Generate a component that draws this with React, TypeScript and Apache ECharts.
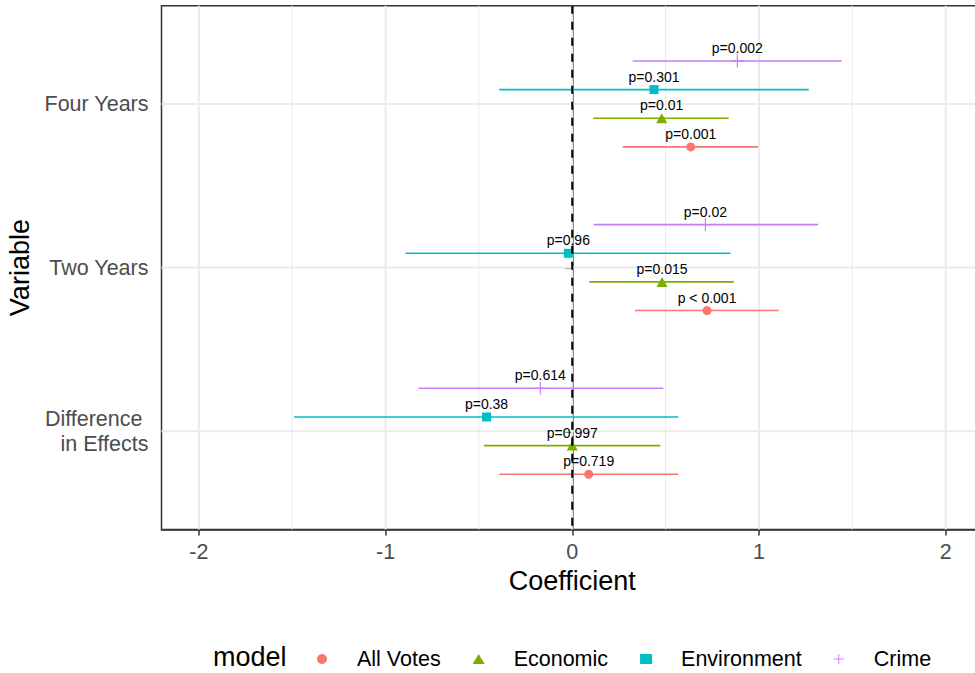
import React, { useEffect, useRef } from "react";
import * as echarts from "echarts";

// Categories (bottom to top, as ggplot places them)
const categories = ["Difference in Effects", "Two Years", "Four Years"];
const models = ["All Votes", "Economic", "Environment", "Crime"];
const modelColors = ["#F8766D", "#7CAE00", "#00BFC4", "#C77CFF"];

// Estimates and 95% intervals, per model, in category order
const allVotesEst = [0.088, 0.722, 0.635];
const allVotesLo = [-0.391, 0.336, 0.27];
const allVotesHi = [0.568, 1.106, 0.995];
const allVotesP = ["p=0.719", "p < 0.001", "p=0.001"];

const economicEst = [0.0, 0.481, 0.479];
const economicLo = [-0.473, 0.091, 0.112];
const economicHi = [0.472, 0.865, 0.838];
const economicP = ["p=0.997", "p=0.015", "p=0.01"];

const environmentEst = [-0.459, -0.021, 0.438];
const environmentLo = [-1.49, -0.893, -0.391];
const environmentHi = [0.568, 0.847, 1.267];
const environmentP = ["p=0.38", "p=0.96", "p=0.301"];

const crimeEst = [-0.171, 0.713, 0.884];
const crimeLo = [-0.823, 0.115, 0.324];
const crimeHi = [0.488, 1.317, 1.444];
const crimeP = ["p=0.614", "p=0.02", "p=0.002"];

const xTicks = [-2, -1, 0, 1, 2];
const xMinorBreaks = [-1.5, -0.5, 0.5, 1.5];
const referenceLine = [0];

const FONT = "'Liberation Sans', Arial, Helvetica, sans-serif";
const PLUS = "path://M5,0h1v11h-1z M0,5h11v1h-11z";

export default function App() {
  const ref = useRef<HTMLDivElement>(null);

  useEffect(() => {
    if (!ref.current) return;
    const chart = echarts.init(ref.current, null, { renderer: "svg" });

    const ests = [allVotesEst, economicEst, environmentEst, crimeEst];
    const los = [allVotesLo, economicLo, environmentLo, crimeLo];
    const his = [allVotesHi, economicHi, environmentHi, crimeHi];
    const ps = [allVotesP, economicP, environmentP, crimeP];
    const symbols = ["circle", "triangle", "rect", PLUS];
    const symbolSizes: any[] = [9, [11, 10], 9, 13];
    const dodgeWidth = 0.7;
    const nModels = models.length;
    const dodge = (m: number) => (m - (nModels - 1) / 2) * (dodgeWidth / nModels);
    const catPos = categories.map((_, i) => i + 1);
    const yMin = 0.4;
    const yMax = categories.length + 0.6;

    const series: any[] = [];

    // vertical grid lines (minor then major)
    series.push({
      type: "custom",
      name: "xgrid",
      silent: true,
      z: 1,
      data: [
        ...xMinorBreaks.map((v) => [v, 0]),
        ...xTicks.map((v) => [v, 1]),
      ],
      encode: { x: 0 },
      renderItem: (params: any, api: any) => {
        const v = api.value(0);
        const major = api.value(1) === 1;
        const p1 = api.coord([v, yMin]);
        const p2 = api.coord([v, yMax]);
        return {
          type: "line",
          shape: { x1: p1[0], y1: p1[1], x2: p2[0], y2: p2[1] },
          style: { stroke: "#EBEBEB", lineWidth: major ? 2 : 1 },
        };
      },
    });
    // horizontal grid lines at categories
    series.push({
      type: "custom",
      name: "ygrid",
      silent: true,
      z: 1,
      data: catPos.map((v) => [0, v]),
      encode: { y: 1 },
      renderItem: (params: any, api: any) => {
        const v = api.value(1);
        const p1 = api.coord([-2.2, v]);
        const p2 = api.coord([2.2, v]);
        return {
          type: "line",
          shape: { x1: p1[0], y1: p1[1], x2: p2[0], y2: p2[1] },
          style: { stroke: "#EBEBEB", lineWidth: 2 },
        };
      },
    });

    models.forEach((m, mi) => {
      series.push({
        type: "custom",
        name: m + " CI",
        silent: true,
        z: 2,
        data: catPos.map((c, ci) => [los[mi][ci], his[mi][ci], c + dodge(mi)]),
        encode: { x: [0, 1], y: 2 },
        renderItem: (params: any, api: any) => {
          const y = api.value(2);
          const p1 = api.coord([api.value(0), y]);
          const p2 = api.coord([api.value(1), y]);
          return {
            type: "line",
            shape: { x1: p1[0], y1: p1[1], x2: p2[0], y2: p2[1] },
            style: { stroke: modelColors[mi], lineWidth: 1.6 },
          };
        },
      });
    });

    models.forEach((m, mi) => {
      series.push({
        type: "scatter",
        name: m,
        z: 3,
        symbol: symbols[mi],
        symbolSize: symbolSizes[mi],
        itemStyle: { color: modelColors[mi], opacity: 1 },
        data: catPos.map((c, ci) => [ests[mi][ci], c + dodge(mi)]),
        label: {
          show: true,
          position: "inside",
          offset: [0, -13],
          formatter: (p: any) => ps[mi][p.dataIndex],
          color: "#000000",
          fontSize: 14,
          fontFamily: FONT,
        },
        emphasis: { disabled: true },
      });
    });

    // dashed reference line at zero, on top
    series.push({
      type: "custom",
      name: "ref",
      silent: true,
      z: 10,
      data: referenceLine.map((v) => [v]),
      encode: { x: 0 },
      renderItem: (params: any, api: any) => {
        const v = api.value(0);
        const p1 = api.coord([v, yMax]);
        const p2 = api.coord([v, yMin]);
        return {
          type: "line",
          shape: { x1: p1[0], y1: p1[1], x2: p2[0], y2: p2[1] },
          style: { stroke: "#000000", lineWidth: 2, lineDash: [8, 8] },
        };
      },
    });

    chart.setOption({
      animation: false,
      backgroundColor: "#ffffff",
      textStyle: { fontFamily: FONT },
      grid: {
        left: 161.5,
        right: 1,
        top: 5.7,
        bottom: 143.5,
        show: true,
        borderColor: "#333333",
        borderWidth: 1.5,
        backgroundColor: "transparent",
        containLabel: false,
        outerBoundsMode: "none",
      },
      xAxis: {
        type: "value",
        min: -2.2,
        max: 2.2,
        name: "Coefficient",
        nameLocation: "middle",
        nameGap: 35,
        nameTextStyle: { fontSize: 27, color: "#000000", fontFamily: FONT },
        axisLine: { show: true, lineStyle: { color: "#333333", width: 1.5 } },
        axisTick: {
          show: true,
          customValues: xTicks,
          length: 6,
          lineStyle: { color: "#333333", width: 1.5 },
        },
        axisLabel: {
          customValues: xTicks,
          margin: 11,
          fontSize: 21.5,
          color: "#4D4D4D",
          fontFamily: FONT,
          formatter: (v: number) => String(v),
        },
        splitLine: { show: false },
      },
      yAxis: {
        type: "value",
        min: yMin,
        max: yMax,
        name: "Variable",
        nameLocation: "middle",
        nameRotate: 90,
        nameGap: 113,
        nameTextStyle: { fontSize: 27, color: "#000000", fontFamily: FONT },
        axisLine: { show: true, lineStyle: { color: "#333333", width: 1.5 } },
        axisTick: {
          show: true,
          customValues: catPos,
          length: 7,
          lineStyle: { color: "#333333", width: 1.5 },
        },
        axisLabel: {
          customValues: catPos,
          margin: 13,
          color: "#4D4D4D",
          fontSize: 21.5,
          fontFamily: FONT,
          formatter: (v: number) => {
            const name = categories[Math.round(v) - 1] || "";
            if (name === "Difference in Effects") {
              return "{a|Difference}\n{b|in Effects}";
            }
            return "{b|" + name + "}";
          },
          rich: {
            a: {
              fontSize: 21.5,
              color: "#4D4D4D",
              fontFamily: FONT,
              lineHeight: 25,
              padding: [0, 6, 0, 0],
              align: "right",
            },
            b: {
              fontSize: 21.5,
              color: "#4D4D4D",
              fontFamily: FONT,
              lineHeight: 25,
              align: "right",
            },
          },
        },
        splitLine: { show: false },
      },
      legend: {
        data: models.map((m, i) => ({ name: m, icon: symbols[i] })),
        left: 312,
        top: 643,
        orient: "horizontal",
        itemWidth: 12,
        itemHeight: 10,
        itemGap: 32,
        selectedMode: false,
        textStyle: {
          fontSize: 21.5,
          color: "#000000",
          fontFamily: FONT,
          padding: [0, 0, 0, 24],
        },
      },
      graphic: [
        {
          type: "text",
          left: 213,
          top: 658 - 15,
          style: {
            text: "model",
            fontSize: 27,
            fill: "#000000",
            fontFamily: FONT,
          },
        },
      ],
      series,
    });

    return () => chart.dispose();
  }, []);

  return (
    <div
      style={{
        position: "fixed",
        left: 0,
        top: 0,
        width: 975,
        height: 673,
        overflow: "hidden",
        background: "#fff",
      }}
    >
      <div ref={ref} style={{ width: 984, height: 673 }} />
    </div>
  );
}
